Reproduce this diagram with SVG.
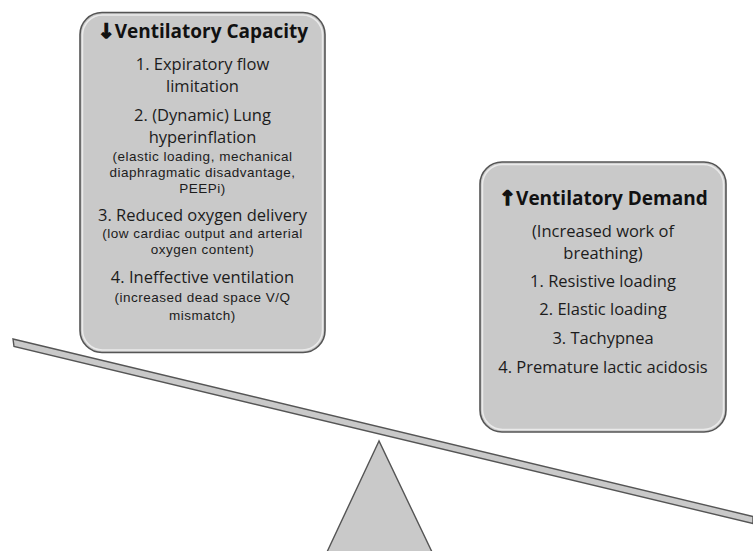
<svg xmlns="http://www.w3.org/2000/svg" width="753" height="551" viewBox="0 0 753 551">
<style>
.box{fill:#c9c9c9;stroke:#555;stroke-width:1.6}
.hl{fill:none;stroke:#f2f2f2;stroke-width:1.5;opacity:0.8}
.t{font-family:"Open Sans","Liberation Sans",sans-serif;fill:#1c1c1c;text-anchor:middle}
.ttl{font-size:19px;font-weight:bold;fill:#111}
.m{font-size:16.5px}
.s{font-family:"Liberation Sans",Arial,sans-serif;font-size:13.5px;letter-spacing:0.5px}
.ar{font-family:"DejaVu Sans",sans-serif;font-weight:bold;font-size:20px;fill:#111;stroke:#111;stroke-width:1.4}
.shape{fill:#c9c9c9;stroke:#555;stroke-width:1.4}
</style>
<rect width="753" height="551" fill="#ffffff"/>
<g id="scale">
<polygon class="shape" points="13,339 753,516.5 753,523.5 14,346.5" fill="#d4d4d4"/>
<polygon class="shape" points="379,441 327,552 432,552"/>
</g>
<g id="capacity">
<rect class="box" x="80" y="12.5" width="245" height="340" rx="22"/>
<rect class="hl" x="82.5" y="15" width="240" height="335" rx="20"/>
<text class="t ttl" x="203" y="38"><tspan class="ar">↓</tspan>Ventilatory Capacity</text>
<text class="t m" x="202.5" y="69.5">1. Expiratory flow</text>
<text class="t m" x="202.5" y="92">limitation</text>
<text class="t m" x="202.5" y="120.5">2. (Dynamic) Lung</text>
<text class="t m" x="202.5" y="143">hyperinflation</text>
<text class="t s" x="202.5" y="161">(elastic loading, mechanical</text>
<text class="t s" x="202.5" y="177">diaphragmatic disadvantage,</text>
<text class="t s" x="202.5" y="193">PEEPi)</text>
<text class="t m" x="202.5" y="221">3. Reduced oxygen delivery</text>
<text class="t s" x="202.5" y="238">(low cardiac output and arterial</text>
<text class="t s" x="202.5" y="254">oxygen content)</text>
<text class="t m" x="202.5" y="283">4. Ineffective ventilation</text>
<text class="t s" x="202.5" y="302">(increased dead space  V/Q</text>
<text class="t s" x="202.5" y="320">mismatch)</text>
</g>
<g id="demand">
<rect class="box" x="480" y="162" width="246" height="270" rx="22"/>
<rect class="hl" x="482.5" y="164.5" width="241" height="265" rx="20"/>
<text class="t ttl" x="603.5" y="205"><tspan class="ar">↑</tspan>Ventilatory Demand</text>
<text class="t m" x="603" y="236.5">(Increased work of</text>
<text class="t m" x="603" y="258.5">breathing)</text>
<text class="t m" x="603" y="287">1. Resistive loading</text>
<text class="t m" x="603" y="315">2. Elastic loading</text>
<text class="t m" x="603" y="344">3. Tachypnea</text>
<text class="t m" x="603" y="373">4. Premature lactic acidosis</text>
</g>
</svg>
